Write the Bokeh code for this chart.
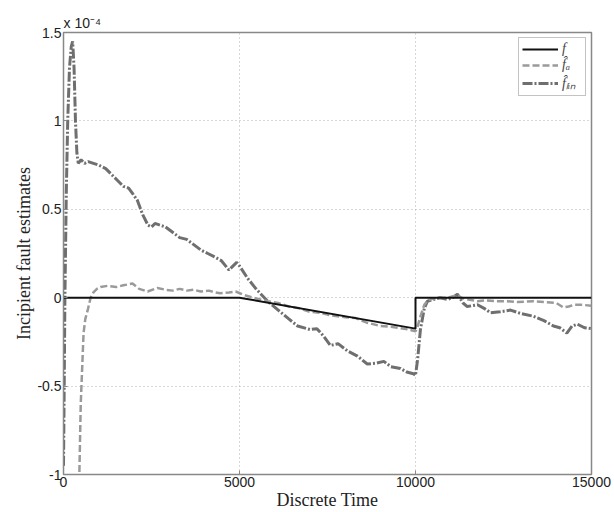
from bokeh.plotting import figure
from bokeh.models import Range1d, FixedTicker, Legend, LegendItem
from bokeh.embed import file_html
from bokeh.resources import INLINE

# ---- data (values in units of 1e-4) ----
t_f = [0, 5000, 10000, 10000, 15000]
v_f = [0, 0, -0.175, 0, 0]

t_a = [0, 150, 300, 400, 450, 490, 530, 570, 620, 700, 770, 850, 950, 1050, 1250,
       1500, 1700, 1960, 2150, 2390, 2670, 2900, 3100, 3300, 3500, 3700, 3900, 4130,
       4300, 4450, 4700, 4890, 5130, 5400, 5800, 6100, 6400, 6700, 7000, 7300, 7600,
       8000, 8300, 8600, 9000, 9300, 9500, 9800, 10000, 10050, 10150, 10250, 10350,
       10500, 10700, 10900, 11100, 11200, 11300, 11500, 11760, 12000, 12300, 12600,
       12900, 13350, 13700, 14000, 14200, 14350, 14500, 14700, 15000]
v_a = [-5.0, -2.6, -1.5, -1.15, -1.0, -0.6, -0.4, -0.2, -0.12, -0.06, 0.0, 0.03, 0.05, 0.06, 0.067,
       0.06, 0.07, 0.08, 0.05, 0.035, 0.055, 0.045, 0.04, 0.05, 0.04, 0.045, 0.035, 0.04,
       0.03, 0.025, 0.03, 0.035, 0.015, 0.0, -0.02, -0.03, -0.05, -0.06, -0.08, -0.085, -0.1,
       -0.11, -0.115, -0.14, -0.16, -0.165, -0.17, -0.18, -0.19, -0.17, -0.1, -0.04, -0.015,
       -0.005, 0.0, 0.0, 0.01, 0.015, 0.0, -0.01, -0.02, -0.015, -0.02, -0.02,
       -0.025, -0.02, -0.025, -0.03, -0.055, -0.05, -0.04, -0.04, -0.045]

t_lin = [0, 20, 40, 80, 120, 170, 220, 260, 300, 340, 380, 420, 500, 600, 700, 850,
         1000, 1200, 1400, 1550, 1700, 1850, 1960, 2100, 2250, 2400, 2500, 2600, 2750,
         2900, 3100, 3300, 3500, 3700, 3900, 4100, 4300, 4480, 4700, 4920, 5000, 5230,
         5470, 5800, 6100, 6400, 6650, 7000, 7200, 7400, 7580, 7800, 8060, 8350, 8630,
         8900, 9100, 9300, 9570, 9750, 9940, 10000, 10060, 10140, 10250, 10340, 10500,
         10700, 10900, 11050, 11190, 11350, 11470, 11760, 11950, 12130, 12400, 12700,
         13000, 13350, 13650, 13920, 14100, 14300, 14450, 14600, 14800, 15000]
v_lin = [-0.95, -0.5, 0.0, 0.6, 1.0, 1.3, 1.42, 1.45, 1.3, 1.0, 0.82, 0.76, 0.78, 0.76, 0.77, 0.76,
         0.75, 0.73, 0.69, 0.66, 0.63, 0.62, 0.59, 0.55, 0.47, 0.41, 0.40, 0.42, 0.41,
         0.40, 0.37, 0.34, 0.33, 0.30, 0.27, 0.25, 0.23, 0.21, 0.157, 0.20, 0.18, 0.11,
         0.05, -0.02, -0.07, -0.12, -0.16, -0.18, -0.175, -0.22, -0.27, -0.26, -0.30, -0.33, -0.375,
         -0.37, -0.36, -0.39, -0.40, -0.42, -0.43, -0.44, -0.35, -0.18, -0.06, -0.02, -0.01,
         0.0, -0.01, 0.0, 0.02, -0.03, -0.05, -0.04, -0.06, -0.085, -0.08, -0.07,
         -0.09, -0.105, -0.13, -0.16, -0.17, -0.2, -0.16, -0.15, -0.17, -0.175]

x_ticks = [0, 5000, 10000, 15000]
y_ticks = [-1, -0.5, 0, 0.5, 1, 1.5]
y_tick_labels = ["-1", "-0.5", "0", "0.5", "1", "1.5"]

p = figure(width=614, height=512, output_backend="svg", toolbar_location=None,
           x_range=Range1d(0, 15000), y_range=Range1d(-1, 1.5),
           min_border_left=63, min_border_right=23, min_border_top=32, min_border_bottom=38,
           title="x 10\u207b\u2074")
p.title.align = "left"
p.title.text_font = "Liberation Sans"
p.title.text_font_style = "normal"
p.title.text_font_size = "14px"
p.title.text_color = "#222222"
p.title.standoff = 3

r_lin = p.line(t_lin, v_lin, line_color="#6f6f6f", line_width=3, line_dash="10 2 2 2")
r_a = p.line(t_a, v_a, line_color="#9a9a9a", line_width=2.5, line_dash="7 3")
r_f = p.line(t_f, v_f, line_color="#111111", line_width=2)

legend = Legend(items=[LegendItem(label="f", renderers=[r_f]),
                       LegendItem(label="f\u0302\u2090", renderers=[r_a]),
                       LegendItem(label="f\u0302\u2097\u1d62\u2099", renderers=[r_lin])],
                location="top_right")
legend.margin = 5
legend.padding = 3
legend.spacing = 0
legend.glyph_width = 36
legend.glyph_height = 14
legend.label_height = 13
legend.label_standoff = 4
legend.label_text_font = "Liberation Serif"
legend.label_text_font_style = "italic"
legend.label_text_font_size = "14px"
legend.border_line_color = "#888888"
legend.border_line_width = 1
p.add_layout(legend)

p.xaxis.ticker = FixedTicker(ticks=x_ticks)
p.yaxis.ticker = FixedTicker(ticks=y_ticks)
p.yaxis.major_label_overrides = {k: v for k, v in zip(y_ticks, y_tick_labels)}
p.xaxis.axis_label = "Discrete Time"
p.yaxis.axis_label = "Incipient fault estimates"
for ax in (p.xaxis, p.yaxis):
    ax.axis_label_text_font = "Liberation Serif"
    ax.axis_label_text_font_style = "normal"
    ax.axis_label_text_font_size = "18px"
    ax.axis_label_text_color = "#222222"
    ax.axis_label_standoff = 0
    ax.major_label_text_font = "Liberation Sans"
    ax.major_label_text_font_size = "14px"
    ax.major_label_text_color = "#222222"
    ax.major_label_standoff = 2
    ax.major_tick_in = 4
    ax.major_tick_out = 0
    ax.minor_tick_in = 0
    ax.minor_tick_out = 0
    ax.axis_line_color = "#888888"
    ax.major_tick_line_color = "#888888"

p.xgrid.grid_line_dash = "1 3"
p.ygrid.grid_line_dash = "1 3"
p.xgrid.grid_line_color = "#b0b0b0"
p.ygrid.grid_line_color = "#b0b0b0"
p.outline_line_color = "#888888"
p.outline_line_width = 1.5

open("out.html", "w").write(file_html(p, INLINE))
